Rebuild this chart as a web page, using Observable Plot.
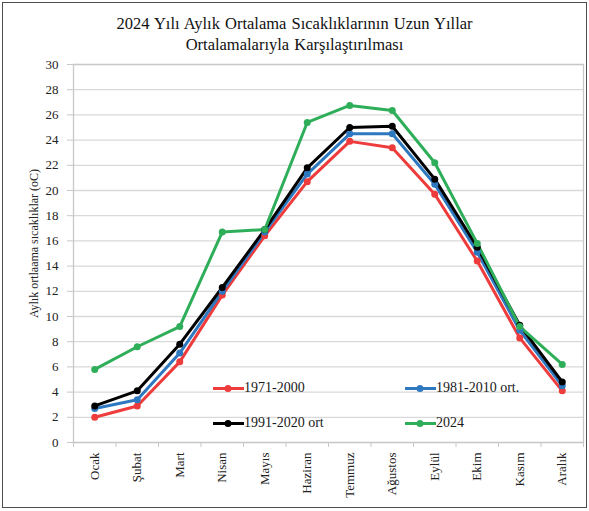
<!DOCTYPE html>
<html>
<head>
<meta charset="utf-8">
<script src="https://cdn.jsdelivr.net/npm/d3@7"></script>
<script src="https://cdn.jsdelivr.net/npm/@observablehq/plot@0.6"></script>
<style>
  html, body { margin: 0; padding: 0; background: #fff; }
  #wrap { position: relative; width: 589px; height: 511px; overflow: hidden; font-family: "Liberation Serif", "Times New Roman", serif; }
  #border { position: absolute; left: 2px; top: 2px; width: 583px; height: 504px; border: 1px solid #4d4d4d; box-sizing: content-box; }
  #title { position: absolute; left: 0; top: 13px; width: 589px; text-align: center; font-size: 16.5px; line-height: 21px; color: #111; word-spacing: 1px; }
  #chart { position: absolute; left: 0; top: 50px; }
  .leg { position: absolute; display: flex; align-items: center; font-size: 14px; color: #1a1a1a; white-space: nowrap; }
  .leg svg { display: block; }
</style>
</head>
<body>
<div id="wrap">
  <div id="border"></div>
  <div id="title">2024 Yılı Aylık Ortalama Sıcaklıklarının Uzun Yıllar<br>Ortalamalarıyla Karşılaştırılması</div>
  <div id="chart"></div>
  <div id="legend"></div>
</div>
<script>
const months = ["Ocak","Şubat","Mart","Nisan","Mayıs","Haziran","Temmuz","Ağustos","Eylül","Ekim","Kasım","Aralık"];
const seriesNames = ["1971-2000", "1981-2010 ort.", "1991-2020 ort", "2024"];
const seriesColors = ["#ee3b3b", "#2e78c0", "#000000", "#2fae5a"];
const s1971 = [2.0, 2.9, 6.4, 11.7, 16.4, 20.7, 23.9, 23.4, 19.7, 14.4, 8.3, 4.1];
const s1981 = [2.7, 3.4, 7.1, 12.0, 16.7, 21.3, 24.5, 24.5, 20.5, 15.1, 8.9, 4.5];
const s1991 = [2.9, 4.1, 7.8, 12.3, 16.9, 21.8, 25.0, 25.1, 20.9, 15.5, 9.3, 4.8];
const s2024 = [5.8, 7.6, 9.2, 16.7, 16.9, 25.4, 26.75, 26.35, 22.2, 15.8, 9.2, 6.2];
const yTicks = d3.range(0, 31, 2);
const yLabel = "Aylık ortlaama sıcaklıklar (oC)";

const allSeries = [s1971, s1981, s1991, s2024];
const data = allSeries.flatMap((vals, k) => vals.map((v, i) => ({series: seriesNames[k], i, v})));
const edges = d3.range(months.length + 1).map(i => i - 0.5);
const font = "'Liberation Serif', 'Times New Roman', serif";

const chart = Plot.plot({
  width: 589,
  height: 461,
  marginTop: 14,
  marginBottom: 69,
  marginLeft: 73,
  marginRight: 6,
  style: {fontFamily: font, background: "transparent", overflow: "visible"},
  x: {domain: [-0.5, months.length - 0.5], axis: null},
  y: {domain: [0, 30], axis: null},
  color: {domain: seriesNames, range: seriesColors},
  marks: [
    Plot.gridY(yTicks, {stroke: "#d9d9d9", strokeOpacity: 1, strokeWidth: 1.3}),
    Plot.frame({stroke: "#c8c8c8", strokeWidth: 1.3}),
    Plot.axisY(yTicks, {tickSize: 6, tickPadding: 9, stroke: "#c8c8c8", fill: "#222", fontSize: 13, fontFamily: font, label: null}),
    Plot.axisX(edges, {tickSize: 5, tickFormat: () => "", stroke: "#c8c8c8", label: null}),
    Plot.axisX(d3.range(months.length), {tickSize: 0, tickPadding: 10, tickRotate: -90, tickFormat: i => months[i], fill: "#222", fontSize: 13, fontFamily: font, label: null}),
    Plot.text([yLabel], {frameAnchor: "left", textAnchor: "middle", rotate: -90, dx: -39, dy: -10, fontSize: 12, fontFamily: font, fill: "#222"}),
    Plot.line(data, {x: "i", y: "v", z: "series", stroke: "series", strokeWidth: 3}),
    Plot.dot(data, {x: "i", y: "v", fill: "series", r: 3.5})
  ]
});
document.getElementById("chart").appendChild(chart);

// legend (inside plot area, as in the reference)
const legPos = [[213, 380], [405, 380], [213, 415], [405, 415]];
const leg = document.getElementById("legend");
seriesNames.forEach((name, k) => {
  const d = document.createElement("div");
  d.className = "leg";
  d.style.left = legPos[k][0] + "px";
  d.style.top = legPos[k][1] + "px";
  d.innerHTML = `<svg width="31" height="14"><line x1="0" x2="31" y1="7.5" y2="7.5" stroke="${seriesColors[k]}" stroke-width="3"/><circle cx="15" cy="7.5" r="3.5" fill="${seriesColors[k]}"/></svg><span>${name}</span>`;
  leg.appendChild(d);
});
</script>
</body>
</html>
